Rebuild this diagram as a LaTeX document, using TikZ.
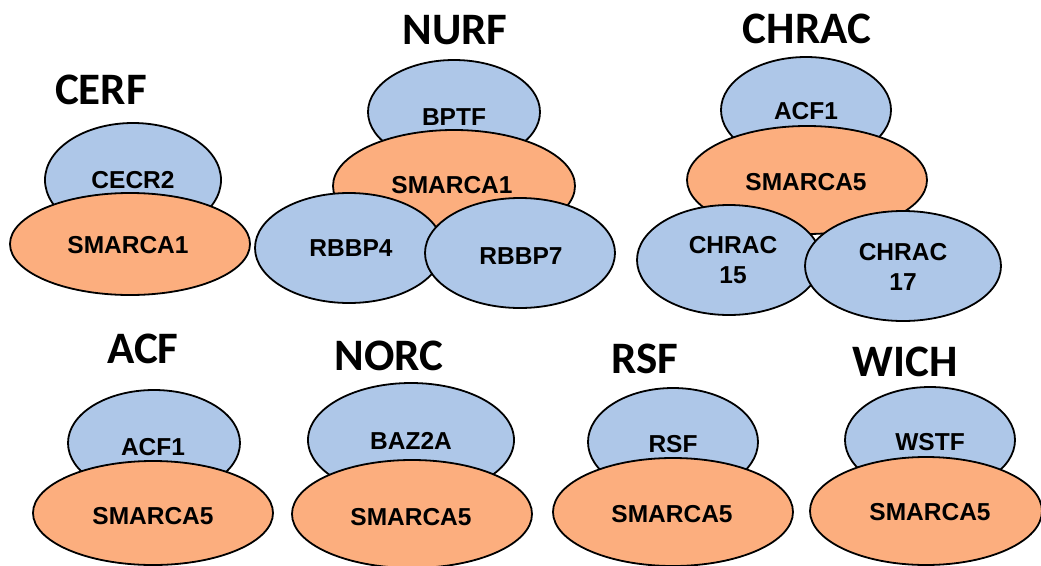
\documentclass[tikz,border=0pt]{standalone}
\usepackage{fontspec}
\setmainfont{Liberation Sans}
\newfontfamily\titlefont{Carlito}
\definecolor{pblue}{RGB}{174,199,232}
\definecolor{porange}{RGB}{252,174,126}
\begin{document}
\begin{tikzpicture}[x=1pt,y=-1pt,
  bl/.style={draw=black, line width=1.8pt, fill=pblue},
  og/.style={draw=black, line width=1.8pt, fill=porange},
  lbl/.style={font=\fontsize{24.5}{28}\selectfont\bfseries, align=center},
  ttl/.style={font=\titlefont\fontsize{45}{48}\selectfont\bfseries},
  every node/.style={inner sep=0pt}]
\fill[white] (0,0) rectangle (1041,565);
\useasboundingbox (0,0) rectangle (1041,565);
% CERF
\node[ttl] (tCERF) at (101,90) {CERF};
\path[bl] (133,180) ellipse [x radius=88, y radius=57];
\node[lbl] (cecr2) at (133,180) {CECR2};
\path[og] (130,244) ellipse [x radius=120, y radius=51];
\node[lbl] (smarca1a) at (128,245) {SMARCA1};
% NURF
\node[ttl] (tNURF) at (455,30) {NURF};
\path[bl] (454,112) ellipse [x radius=86, y radius=52];
\node[lbl] (bptf) at (454,117) {BPTF};
\path[og] (454,186) ellipse [x radius=121, y radius=56];
\node[lbl] (smarca1b) at (452,185) {SMARCA1};
\path[bl] (349,248) ellipse [x radius=94, y radius=55];
\node[lbl] (rbbp4) at (351,248) {RBBP4};
\path[bl] (520,253) ellipse [x radius=95, y radius=55];
\node[lbl] (rbbp7) at (521,256) {RBBP7};
% CHRAC
\node[ttl] (tCHRAC) at (807,29) {CHRAC};
\path[bl] (806,110) ellipse [x radius=85, y radius=53];
\node[lbl] (acf1a) at (806,111) {ACF1};
\path[og] (807,180) ellipse [x radius=120, y radius=54];
\node[lbl] (smarca5a) at (806,182) {SMARCA5};
\path[bl] (729,260) ellipse [x radius=92, y radius=55];
\node[lbl] (chrac15) at (733,260) {CHRAC\\[2pt]15};
\path[bl] (903,266) ellipse [x radius=98, y radius=55];
\node[lbl] (chrac17) at (903,267) {CHRAC\\[2pt]17};
% ACF
\node[ttl] (tACF) at (143,349) {ACF};
\path[bl] (154,443) ellipse [x radius=86, y radius=53];
\node[lbl] (acf1b) at (153,447) {ACF1};
\path[og] (153,513) ellipse [x radius=120, y radius=52];
\node[lbl] (smarca5b) at (153,516) {SMARCA5};
% NORC
\node[ttl] (tNORC) at (389,356) {NORC};
\path[bl] (411,440) ellipse [x radius=103, y radius=57];
\node[lbl] (baz2a) at (411,441) {BAZ2A};
\path[og] (412,514) ellipse [x radius=120, y radius=54];
\node[lbl] (smarca5c) at (411,517) {SMARCA5};
% RSF
\node[ttl] (tRSF) at (645,359) {RSF};
\path[bl] (673,442) ellipse [x radius=85, y radius=54];
\node[lbl] (rsf) at (673,444) {RSF};
\path[og] (673,512) ellipse [x radius=120, y radius=54];
\node[lbl] (smarca5d) at (672,514) {SMARCA5};
% WICH
\node[ttl] (tWICH) at (905,362) {WICH};
\path[bl] (930,440) ellipse [x radius=85, y radius=53];
\node[lbl] (wstf) at (930,442) {WSTF};
\path[og] (926,511) ellipse [x radius=116, y radius=54];
\node[lbl] (smarca5e) at (930,512) {SMARCA5};
\end{tikzpicture}
\end{document}
